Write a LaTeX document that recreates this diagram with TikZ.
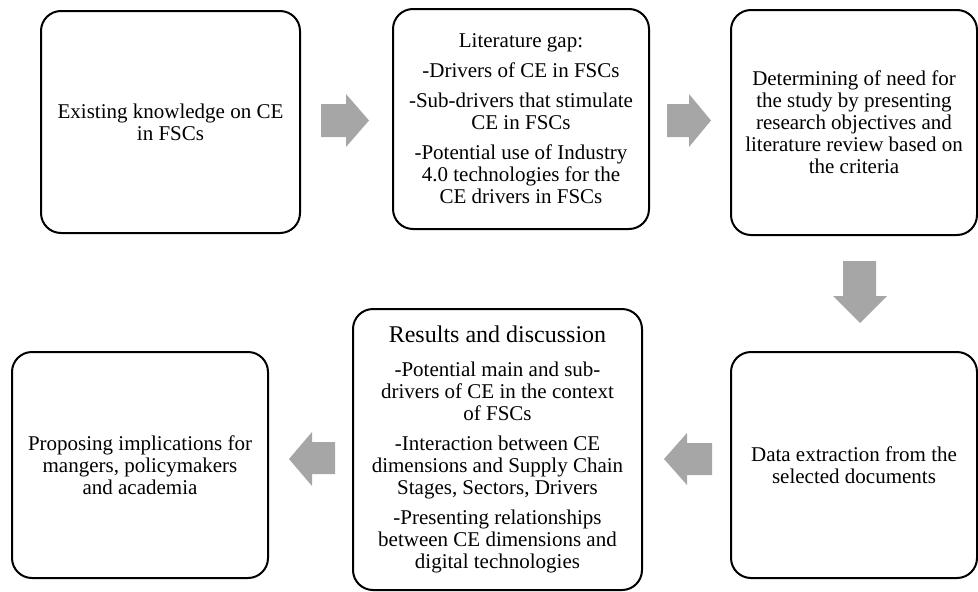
\documentclass[tikz,border=0pt]{standalone}
\usepackage{fontspec}
\setmainfont{Liberation Serif}
\definecolor{arrowgray}{HTML}{A6A6A6}
\begin{document}
\begin{tikzpicture}[x=1pt,y=-1pt,
  box/.style={draw,line width=2pt,rounded corners=20pt,align=center,
    font=\fontsize{21}{22}\selectfont,inner sep=0pt},
  blockarrow/.style={fill=arrowgray}]
\useasboundingbox (0,0) rectangle (978,592);
% boxes
\node[box,minimum width=259pt,minimum height=222pt] (b1) at (170.5,122)
  {Existing knowledge on CE\\in FSCs};
\node[box,minimum width=256pt,minimum height=220pt] (b2) at (521,119)
  {Literature gap:\\[8pt]
   -Drivers of CE in FSCs\\[8pt]
   -Sub-drivers that stimulate\\CE in FSCs\\[8pt]
   -Potential use of Industry\\4.0 technologies for the\\CE drivers in FSCs};
\node[box,minimum width=246pt,minimum height=225pt] (b3) at (854,122.5)
  {Determining of need for\\the study by presenting\\research objectives and\\literature review based on\\the criteria};
\node[box,minimum width=246pt,minimum height=226pt] (b4) at (854,465)
  {Data extraction from the\\selected documents};
\node[box,minimum width=289pt,minimum height=281pt] (b5) at (497.5,449.5)
  {{\fontsize{24}{26}\selectfont Results and discussion}\\[12pt]
   -Potential main and sub-\\drivers of CE in the context\\of FSCs\\[8pt]
   -Interaction between CE\\dimensions and Supply Chain\\Stages, Sectors, Drivers\\[8pt]
   -Presenting relationships\\between CE dimensions and\\digital technologies};
\node[box,minimum width=256pt,minimum height=226pt] (b6) at (140,465)
  {Proposing implications for\\mangers, policymakers\\and academia};
% block arrows
\fill[blockarrow] (321,104) -- (346,104) -- (346,94) -- (369,120.5) -- (346,147) -- (346,137) -- (321,137) -- cycle;
\fill[blockarrow] (667,104) -- (689,104) -- (689,94) -- (711,120.5) -- (689,147) -- (689,137) -- (667,137) -- cycle;
\fill[blockarrow] (843,261) -- (876,261) -- (876,296) -- (887,296) -- (860,323) -- (833,296) -- (843,296) -- cycle;
\fill[blockarrow] (712,443) -- (687,443) -- (687,433) -- (664,459) -- (687,485) -- (687,475) -- (712,475) -- cycle;
\fill[blockarrow] (335,442) -- (312,442) -- (312,432) -- (289,459) -- (312,486) -- (312,474) -- (335,474) -- cycle;
\end{tikzpicture}
\end{document}
